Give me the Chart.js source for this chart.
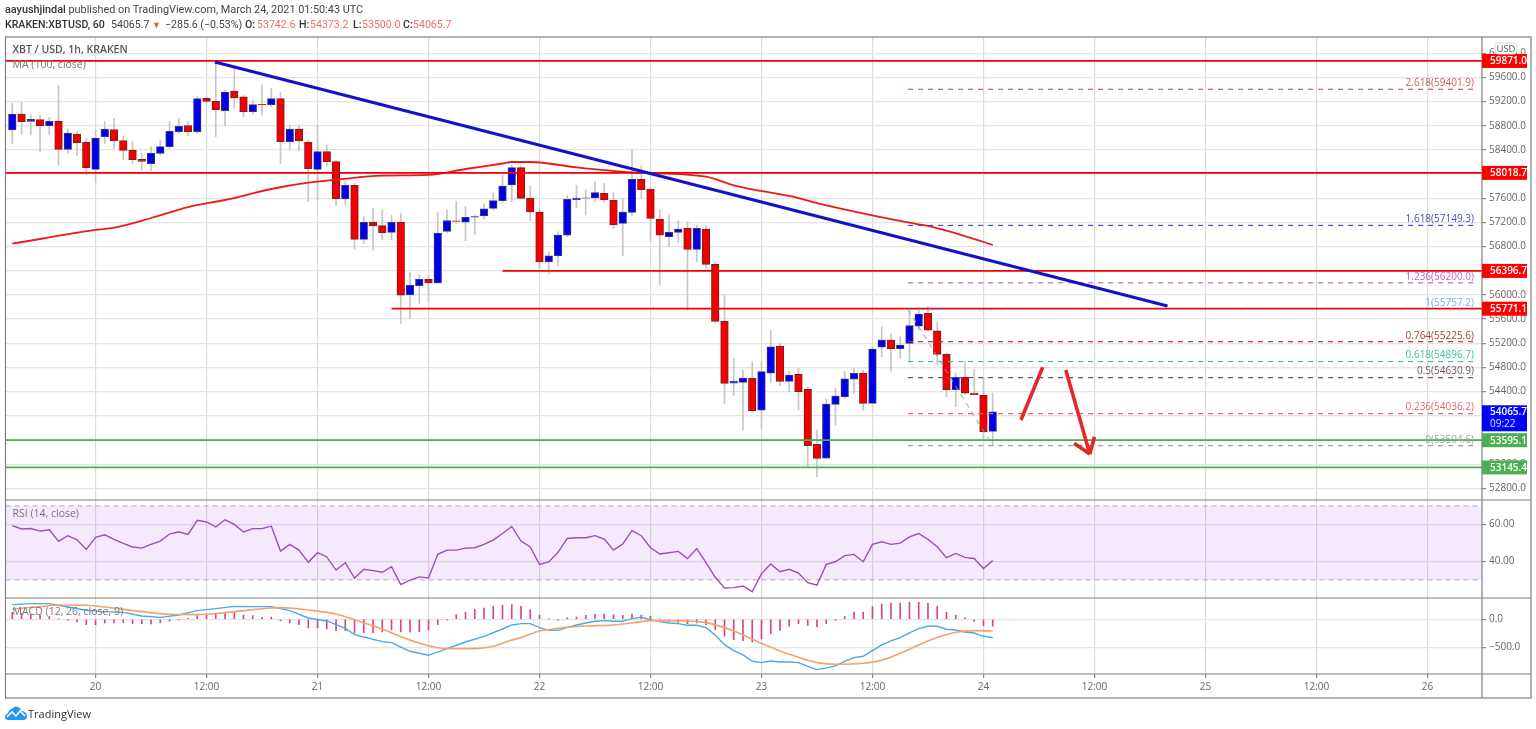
<!DOCTYPE html>
<html>
<head>
<meta charset="utf-8">
<title>XBT / USD</title>
<script src="https://cdn.jsdelivr.net/npm/chart.js@4"></script>
<style>
  html, body { margin: 0; padding: 0; background: #fff; overflow: hidden; }
  #wrap { position: relative; width: 1536px; height: 729px; }
  #wrap canvas { position: absolute; left: 0; top: 0; }
  .line { position: absolute; white-space: nowrap; font-family: Roboto, sans-serif; color: #444; font-size: 10.85px; line-height: 14px; }
  #head1 { left: 5px; top: 3px; }
  #head2 span { position: absolute; top: 18px; white-space: nowrap; font-family: Roboto, sans-serif; font-size: 10.6px; line-height: 14px; color: #444; }
  #head2 span.val { color: #ef6f6f; }
  #head2 span.dn { color: #ef5350; font-size: 9px; }
  #head2 span.key, b { font-weight: 500; color: #333; }
  #logo { position: absolute; left: 5px; top: 706px; }
  #brand { position: absolute; left: 28px; top: 706px; font: 11px "Open Sans", sans-serif; color: #333; }
</style>
</head>
<body>
<div id="wrap">
  <canvas id="tvChart" width="1536" height="729"></canvas>
  <div class="line" id="head1"><b>aayushjindal</b> published on TradingView.com, March 24, 2021 01:50:43 UTC</div>
  <div id="head2">
    <span class="key" style="left:5px">KRAKEN:XBTUSD, 60</span>
    <span style="left:111px">54065.7</span>
    <span class="dn" style="left:152px">&#9660;</span>
    <span style="left:165px">&minus;285.6 (&minus;0.53%)</span>
    <span class="key" style="left:245px">O:</span><span class="val" style="left:257px">53742.6</span>
    <span class="key" style="left:299px">H:</span><span class="val" style="left:310px">54373.2</span>
    <span class="key" style="left:353px">L:</span><span class="val" style="left:362px">53500.0</span>
    <span class="key" style="left:403px">C:</span><span class="val" style="left:413px">54065.7</span>
  </div>
  <svg id="logo" width="22" height="15" viewBox="0 0 22 15">
    <path d="M0 11 Q0 8 3 7.5 Q4 3 7 3 Q9 0 13 1 Q16 2 16 5 Q21 5 22 10 Q22 14 18 14 L3 14 Q0 14 0 11 Z" fill="#2196f3"/>
    <path d="M2 11 L7 6 L11 10 L15 5 L20 10" fill="none" stroke="#fff" stroke-width="1.6"/>
  </svg>
  <div id="brand">TradingView</div>
</div>
<script>
// hourly candles, 19 Mar 15:00 to 24 Mar 01:00
const opens = [58728,58993,58870,58900,58800,58872,58408,58662,58524,58077,58618,58734,58552,58397,58243,58171,58342,58453,58701,58800,58701,59252,59203,59048,59374,59275,59032,59153,59148,59247,58535,58745,58524,58077,58370,58204,57587,57813,56919,57200,57145,57035,57200,56000,56154,56259,56199,57048,57225,57203,57287,57308,57432,57559,57818,58105,57603,57371,56544,56643,56990,57576,57605,57603,57680,57564,57183,57365,57912,57746,57255,56963,57035,57101,56753,57090,56505,55561,54541,54552,54618,54094,54706,55153,54568,54684,54436,53526,53300,54188,54315,54607,54701,54204,55136,55252,55109,55197,55484,55694,55407,55015,54430,54640,54375,54339,53742.6];
const closes = [58993,58866,58905,58800,58872,58408,58679,58519,58105,58596,58745,58546,58392,58237,58210,58342,58453,58706,58789,58701,59247,59203,59059,59357,59258,59032,59148,59142,59247,58535,58745,58546,58088,58370,58204,57592,57813,56919,57200,57140,57029,57200,55997,56160,56259,56199,57021,57230,57214,57285,57296,57423,57560,57801,58105,57597,57371,56544,56648,56990,57581,57603,57600,57691,57570,57156,57371,57912,57741,57266,56990,57035,57090,56753,57101,56505,55561,54535,54574,54624,54083,54729,55142,54568,54673,54397,53504,53294,54193,54326,54613,54701,54204,55104,55252,55109,55170,55490,55683,55418,55015,54430,54635,54375,54348,53736,54065.7];
const highs = [59170,59181,58977,58977,58938,59457,58745,58700,58590,58728,58866,58921,58629,58535,58342,58453,58563,58866,58921,58866,59280,59280,59859,59390,59749,59308,59225,59473,59418,59346,58811,58811,58563,58811,58480,58232,57873,57846,57294,57432,57404,57322,57355,56370,56331,56314,57363,57407,57545,57460,57322,57506,57690,57984,58149,58132,57801,57404,56715,57045,57641,57818,57735,57873,57845,57691,57597,58397,58132,57790,57404,57321,57228,57211,57156,57139,56549,55996,54949,54756,54894,54894,55418,55197,54729,54784,54480,53763,54270,54453,54729,54784,54756,55142,55473,55363,55308,55766,55788,55804,55545,55032,54712,54894,54767,54630,54373.2];
const lows = [58508,58657,58646,58370,58646,58138,58342,58304,57984,57857,58508,58425,58232,58177,58055,58055,58315,58425,58673,58629,58673,59170,58618,58800,59087,58949,58984,58977,59115,58177,58397,58386,57542,57570,58132,57476,57487,56759,56853,56742,56908,56908,55529,55614,55862,55890,56193,57021,57186,56899,57004,57252,57407,57530,57542,57586,57228,56439,56345,56477,56963,57443,57321,57542,57531,57101,56643,57310,57586,56880,56163,56797,56869,55749,56549,56439,55539,54204,54331,53763,54066,53791,54552,54497,54397,54094,53156,52991,53294,53846,54287,54370,54094,54204,54977,54739,54949,54883,55418,55390,54839,54314,54149,54359,54340,53611,53500];

// moving average, as read at these bars
const maBars = [0,9,11,15,19,23,28,32,35,40,45,49,53,54,56,61,67,75,78,85,87,97,99,105,106];
const maValues = [56847,57074,57112,57272,57454,57570,57752,57856,57904,57972,57984,58083,58174,58199,58199,58111,58028,57955,57813,57603,57520,57194,57140,56875,56825];

const rsiValues = [59.3,57.5,57.8,56.4,57.1,50.8,53.9,51.7,46.5,53,54.4,51.9,49.7,47.8,47.2,49.2,51,54.8,56,54.6,62.2,61.3,58.6,62.5,60,55.9,57.7,57.7,59.1,45.6,49.2,46.1,39.5,44.7,42.4,35.3,39.3,31,35.7,35,34.1,37.1,27.4,29.9,31.6,31,43.8,46.1,46.1,47.2,47.4,49.2,51.5,55.1,58.9,51,47.8,38.4,39.7,44.9,52.4,52.8,52.8,53.9,52.1,46.1,49.4,56.6,53.9,47.4,44,44.7,45.4,41.5,46.9,39.3,31.4,25.6,25.8,26.7,23.6,33.4,38.6,34.4,35.7,33.7,28.5,27.2,38.4,39.8,43.1,43.8,39.8,49.2,50.6,49.2,49.9,53.3,55.1,51.9,47.9,42,44.3,42.2,41.6,36.2,40.4];

const macdHist = [123,106,88,76,47,6,-18,-47,-94,-94,-65,-65,-59,-76,-76,-82,-65,-35,-6,18,65,94,88,112,118,76,65,35,41,-29,-65,-94,-153,-153,-170,-200,-200,-241,-241,-235,-223,-188,-223,-229,-218,-188,-94,-6,82,129,176,200,229,247,259,229,170,76,6,-18,24,41,71,94,94,82,71,94,76,53,6,-41,-53,-76,-65,-100,-182,-300,-359,-376,-400,-347,-253,-194,-123,-76,-106,-135,-76,-18,53,129,129,218,270,288,288,300,300,288,229,123,76,24,-35,-112,-123];
const macdBars = [0,2,4,6,8,10,12,14,16,18,20,22,24,26,28,30,32,34,36,37,40,41,43,45,47,49,51,53,54,55,56,57,58,59,60,61,62,63,64,65,66,67,68,69,70,71,72,73,74,75,76,77,78,79,80,81,82,83,84,85,86,87,88,89,90,91,92,93,94,95,96,97,98,99,100,101,102,103,104,105,106];
const macdValues = [259,276,276,218,159,135,123,59,35,76,153,188,229,223,223,153,24,-29,-159,-270,-394,-412,-564,-635,-517,-400,-300,-171,-100,-76,-76,-147,-194,-194,-141,-100,-65,-35,-24,-35,-35,12,35,0,-41,-65,-76,-106,-106,-147,-276,-447,-553,-629,-741,-764,-735,-753,-753,-764,-829,-888,-858,-823,-741,-676,-653,-553,-453,-382,-323,-241,-165,-123,-123,-176,-188,-223,-241,-300,-323];
const signalBars = [0,3,5,8,10,14,17,20,24,28,29,32,35,37,40,42,45,47,50,52,54,55,57,58,60,62,65,68,69,73,75,78,81,83,85,87,89,92,94,96,98,100,102,104,106];
const signalValues = [182,223,253,247,218,135,88,82,135,200,206,165,94,-6,-171,-306,-465,-517,-517,-476,-365,-323,-206,-182,-141,-118,-100,-41,-24,-29,-59,-206,-423,-559,-670,-764,-794,-776,-723,-600,-453,-323,-229,-200,-206];

// axes
const priceTicks = [52800,53200,53600,54000,54400,54800,55200,55600,56000,56400,56800,57200,57600,58000,58400,58800,59200,59600,60000];
const rsiTicks = [40,60];
const macdTicks = [-500,0];
const timeTickBars = [9,21,33,45,57,69,81,93,105,117,129,141,153];
const timeLabels = ['20','12:00','21','12:00','22','12:00','23','12:00','24','12:00','25','12:00','26'];

// horizontal price levels drawn on the chart
const levelPrices = [59871.0,58018.7,56396.7,55771.1,53595.1,53145.4];
const levelStartBars = [-0.74,-0.74,53,41,-0.74,-0.74];
const levelTags = ['59871.0','58018.7','56396.7','55771.1','53595.1','53145.4'];

// trend line and the two hand drawn arrows
const trendBars = [21.9,124.9];
const trendPrices = [59853,55816];
const upArrowBars = [109.05,111.4];
const upArrowPrices = [53930,54802];
const downArrowBars = [113.9,116.5];
const downArrowPrices = [54757,53368];
const headLeftBars = [114.8,116.5];
const headLeftPrices = [53544,53368];
const headRightBars = [117,116.5];
const headRightPrices = [53654,53368];

// fibonacci extension
const fibLevels = ['2.618','1.618','1.236','1','0.764','0.618','0.5','0.236','0'];
const fibPrices = [59401.9,57149.3,56200.0,55757.2,55225.6,54896.7,54630.9,54036.2,53504.6];
const fibBars = [96.85,158.35];
const fibTrendBars = [96.85,106];
const fibTrendPrices = [55757.2,53504.6];

const fibColors = ['#c9605f','#4a4ac8','#b868d8','#6db3df','#a83c3c','#38c2a0','#6d5566','#df6a6a','#a0a0a0'];
const lastPrice = 54065.7;
const xLeft = -0.735, xRight = 158.9;

const bars = opens.map((v, i) => i);

function pts(xs, ys) {
  return xs.map((x, i) => ({ x: x, y: ys[i] }));
}
function lineSet(data, color, width, axis, order, dash, smooth) {
  return {
    type: 'line', data: data, yAxisID: axis, order: order,
    borderColor: color, borderWidth: width, borderDash: dash || [],
    pointRadius: 0, fill: false,
    cubicInterpolationMode: smooth ? 'monotone' : 'default', tension: 0
  };
}

const datasets = [];

// wicks under bodies
datasets.push({
  type: 'bar', yAxisID: 'y', order: 20, grouped: false,
  data: bars.map(i => ({ x: i, y: [lows[i], highs[i]] })),
  backgroundColor: '#c6c6ca', barPercentage: 1, categoryPercentage: 1, maxBarThickness: 1
});
datasets.push({
  type: 'bar', yAxisID: 'y', order: 19, grouped: false,
  data: bars.map(i => ({ x: i, y: [opens[i], closes[i]] })),
  backgroundColor: ctx => closes[ctx.dataIndex] >= opens[ctx.dataIndex] ? '#0000e6' : '#f20000',
  borderColor: ctx => closes[ctx.dataIndex] >= opens[ctx.dataIndex] ? '#3a3a7a' : '#7a2020',
  borderWidth: 1, borderSkipped: false,
  barPercentage: 1, categoryPercentage: 1, maxBarThickness: 7.6
});
datasets.push(lineSet(pts(maBars, maValues), '#f01818', 1.8, 'y', 10, null, true));

levelPrices.forEach((p, i) => {
  const color = i < 4 ? '#f40000' : '#4caf50';
  datasets.push(lineSet(pts([levelStartBars[i], xRight], [p, p]), color, 1.8, 'y', 8));
});
fibPrices.forEach((p, i) => {
  datasets.push(lineSet(pts(fibBars, [p, p]), fibColors[i], 1.2, 'y', 7, [5, 5]));
});
datasets.push(lineSet(pts(fibTrendBars, fibTrendPrices), '#9a9a9a', 1, 'y', 7, [5, 5]));
datasets.push(lineSet(pts(trendBars, trendPrices), '#1212cc', 3, 'y', 6));
datasets.push(lineSet(pts(upArrowBars, upArrowPrices), '#e5262a', 3.6, 'y', 5));
datasets.push(lineSet(pts(downArrowBars, downArrowPrices), '#e5262a', 3.6, 'y', 5));
datasets.push(lineSet(pts(headLeftBars, headLeftPrices), '#e5262a', 3.6, 'y', 5));
datasets.push(lineSet(pts(headRightBars, headRightPrices), '#e5262a', 3.6, 'y', 5));

// rsi pane
datasets.push(lineSet(pts([xLeft, xRight], [70, 70]), '#b5a8bd', 1, 'yRsi', 9, [5, 4]));
datasets.push(lineSet(pts([xLeft, xRight], [30, 30]), '#b5a8bd', 1, 'yRsi', 9, [5, 4]));
datasets.push(lineSet(pts(bars, rsiValues), '#9c50b4', 1.4, 'yRsi', 4));

// macd pane
datasets.push({
  type: 'bar', yAxisID: 'yMacd', order: 12, grouped: false,
  data: bars.map(i => ({ x: i, y: macdHist[i] })),
  backgroundColor: '#d9438d', barPercentage: 1, categoryPercentage: 1, maxBarThickness: 1
});
datasets.push(lineSet(pts(macdBars, macdValues), '#4ba9e4', 1.4, 'yMacd', 3));
datasets.push(lineSet(pts(signalBars, signalValues), '#f4a26c', 1.6, 'yMacd', 2, null, true));

// rsi band, sits on top of the grid but under the marks
const bandPlugin = {
  id: 'band',
  beforeDatasetsDraw(chart) {
    const c = chart.ctx, a = chart.chartArea, s = chart.scales.yRsi;
    c.save();
    c.fillStyle = 'rgba(160, 60, 240, 0.11)';
    c.fillRect(a.left, s.getPixelForValue(70), a.right - a.left, s.getPixelForValue(30) - s.getPixelForValue(70));
    c.restore();
  }
};

const overlayPlugin = {
  id: 'overlay',
  afterDraw(chart) {
    const c = chart.ctx, a = chart.chartArea, sc = chart.scales;
    const outerRight = a.right + 49, outerBottom = a.bottom + 24;

    // frame and pane borders
    c.save();
    c.strokeStyle = '#808080';
    c.lineWidth = 1.2;
    c.strokeRect(a.left, a.top, outerRight - a.left, outerBottom - a.top);
    c.beginPath();
    c.moveTo(a.right, a.top); c.lineTo(a.right, outerBottom);
    [sc.y.bottom, sc.yRsi.bottom, sc.yMacd.bottom].forEach(yy => {
      c.moveTo(a.left, yy); c.lineTo(outerRight, yy);
    });
    c.stroke();

    // pane titles
    c.textBaseline = 'middle';
    c.textAlign = 'left';
    c.font = '600 10.5px "Open Sans", sans-serif';
    c.fillStyle = '#555';
    c.fillText('XBT / USD, 1h, KRAKEN', a.left + 7, sc.y.top + 13);
    c.font = '10.5px "Open Sans", sans-serif';
    c.fillStyle = '#777';
    c.fillText('MA (100, close)', a.left + 7, sc.y.top + 28.5);
    c.fillText('RSI (14, close)', a.left + 7, sc.yRsi.top + 14);
    c.fillText('MACD (12, 26, close, 9)', a.left + 7, sc.yMacd.top + 14);

    // fib labels
    c.font = '10px "Open Sans", sans-serif';
    c.textAlign = 'right';
    c.textBaseline = 'bottom';
    fibPrices.forEach((p, i) => {
      c.fillStyle = fibColors[i];
      c.fillText(fibLevels[i] + '(' + p.toFixed(1) + ')', sc.x.getPixelForValue(fibBars[1]) - 3, sc.y.getPixelForValue(p) - 1);
    });

    // price tags on the axis
    c.textAlign = 'left';
    c.textBaseline = 'middle';
    c.font = '600 10px "Open Sans", sans-serif';
    levelPrices.forEach((p, i) => {
      const yy = sc.y.getPixelForValue(p);
      c.fillStyle = i < 4 ? '#ff0000' : '#4caf50';
      c.fillRect(a.right, yy - 7, 45, 14);
      c.fillStyle = '#fff';
      c.fillText(levelTags[i], a.right + 8, yy + 0.5);
    });
    const ly = sc.y.getPixelForValue(lastPrice);
    c.fillStyle = '#0000ff';
    c.fillRect(a.right, ly - 6.5, 45, 26);
    c.fillStyle = '#fff';
    c.fillText(lastPrice.toFixed(1), a.right + 8, ly);
    c.font = '10px "Open Sans", sans-serif';
    c.fillStyle = '#dfe3ff';
    c.fillText('09:22', a.right + 8, ly + 12);

    // currency button
    c.fillStyle = '#fff';
    c.strokeStyle = '#d8d8d8';
    c.lineWidth = 1;
    c.beginPath();
    c.roundRect(a.right + 13, a.top + 6, 22, 11, 3);
    c.fill();
    c.stroke();
    c.fillStyle = '#555';
    c.font = '9.5px "Open Sans", sans-serif';
    c.textAlign = 'center';
    c.fillText('USD', a.right + 24, a.top + 12);
    c.restore();
  }
};

function yAxis(lo, hi, weight, tickList, fmt, stackOrder) {
  return {
    type: 'linear', position: 'right', min: lo, max: hi,
    stack: 'panes', stackWeight: weight, weight: stackOrder,
    afterFit(s) { s.width = 49; },
    afterBuildTicks(s) { s.ticks = tickList.map(v => ({ value: v })); },
    border: { display: false },
    grid: { color: '#e4e4e4', lineWidth: 1.2, tickColor: '#888', tickLength: 4 },
    ticks: {
      padding: 3, color: '#666', autoSkip: false,
      font: { family: '"Open Sans", sans-serif', size: 10 },
      callback: fmt
    }
  };
}

new Chart(document.getElementById('tvChart').getContext('2d'), {
  type: 'bar',
  data: { datasets: datasets },
  options: {
    responsive: false,
    animation: false,
    events: [],
    layout: { padding: { left: 5.5, right: 5, top: 37, bottom: 31 } },
    plugins: { legend: { display: false }, tooltip: { enabled: false }, title: { display: false } },
    scales: {
      x: {
        type: 'linear', min: xLeft, max: xRight, offset: false,
        afterFit(s) { s.height = 24; },
        afterBuildTicks(s) { s.ticks = timeTickBars.map(v => ({ value: v })); },
        border: { display: false },
        grid: { offset: false, color: '#dcdcdc', lineWidth: 1.2, tickColor: '#888', tickLength: 4 },
        ticks: {
          padding: 3, color: '#666', autoSkip: false, maxRotation: 0,
          font: { family: '"Open Sans", sans-serif', size: 10 },
          callback: value => timeLabels[timeTickBars.indexOf(value)]
        }
      },
      y: yAxis(52606, 60267, 463, priceTicks, v => v.toFixed(1), 0),
      yRsi: yAxis(20.2, 73.2, 98, rsiTicks, v => v.toFixed(2), 1),
      yMacd: yAxis(-965, 376, 76, macdTicks, v => v.toFixed(1).replace('-', '\u2212'), 2)
    }
  },
  plugins: [bandPlugin, overlayPlugin]
});
</script>
</body>
</html>
